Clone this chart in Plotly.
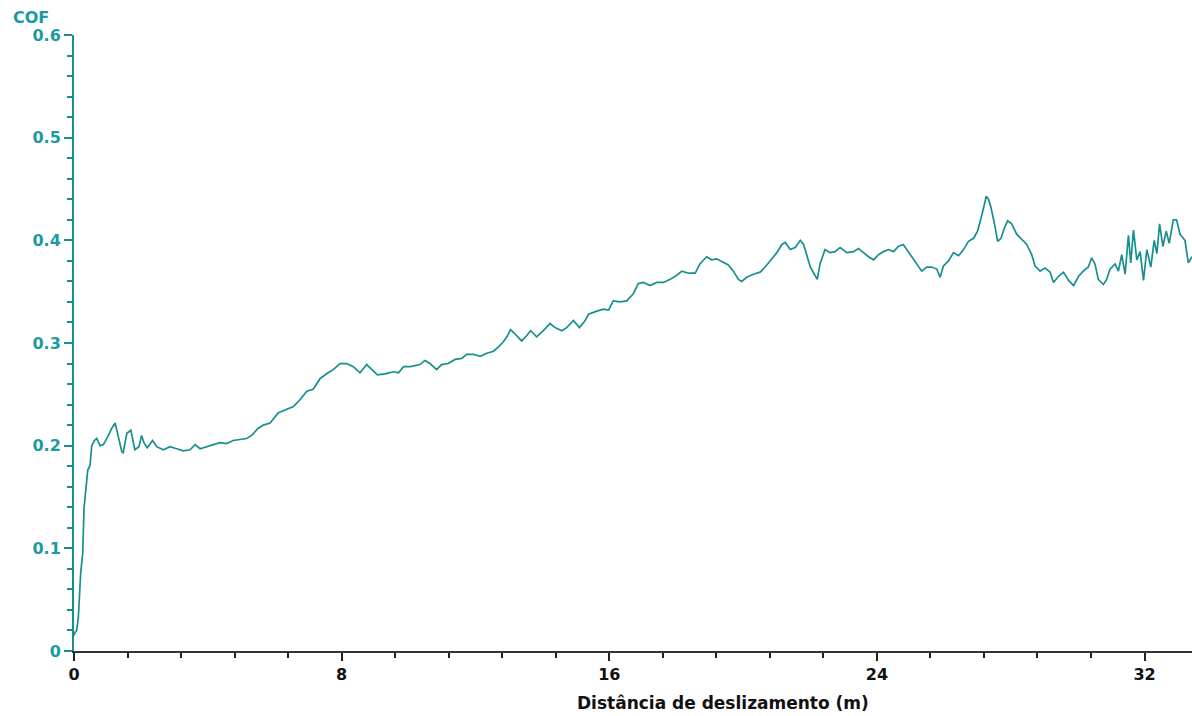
import plotly.graph_objects as go

# Sliding distance (m) and coefficient of friction
distance = [
    0.00, 0.03, 0.08, 0.13, 0.20, 0.26, 0.30, 0.36, 0.41, 0.48, 0.53, 0.61, 0.68, 0.78, 0.88,
    1.03, 1.13, 1.23, 1.33, 1.43, 1.47, 1.58, 1.70, 1.82, 1.94, 2.02, 2.09, 2.19, 2.35, 2.47,
    2.67, 2.87, 3.07, 3.27, 3.47, 3.62, 3.77, 3.97, 4.16, 4.36, 4.56, 4.76, 4.96, 5.16, 5.31,
    5.51, 5.66, 5.86, 6.11, 6.36, 6.56, 6.76, 6.96, 7.15, 7.35, 7.55, 7.75, 7.95, 8.15, 8.35,
    8.55, 8.75, 8.90, 9.07, 9.30, 9.55, 9.70, 9.85, 10.05, 10.34, 10.49, 10.64, 10.84, 10.99,
    11.19, 11.39, 11.59, 11.74, 11.94, 12.14, 12.34, 12.54, 12.68, 12.83, 12.94, 13.05, 13.18,
    13.38, 13.53, 13.65, 13.83, 14.03, 14.23, 14.38, 14.58, 14.73, 14.93, 15.11, 15.28, 15.38,
    15.63, 15.83, 15.98, 16.12, 16.32, 16.52, 16.72, 16.87, 17.02, 17.22, 17.42, 17.62, 17.82,
    18.02, 18.17, 18.37, 18.57, 18.71, 18.91, 19.06, 19.21, 19.41, 19.56, 19.71, 19.86, 19.96,
    20.11, 20.31, 20.51, 20.66, 20.86, 21.01, 21.16, 21.26, 21.41, 21.56, 21.71, 21.81, 21.91,
    22.01, 22.13, 22.22, 22.30, 22.45, 22.60, 22.75, 22.90, 23.10, 23.30, 23.45, 23.60, 23.75,
    23.90, 24.05, 24.20, 24.35, 24.50, 24.64, 24.79, 24.94, 25.09, 25.24, 25.34, 25.49, 25.64,
    25.79, 25.89, 25.99, 26.14, 26.29, 26.44, 26.59, 26.74, 26.89, 27.01, 27.14, 27.27, 27.34,
    27.41, 27.51, 27.61, 27.71, 27.81, 27.91, 28.03, 28.18, 28.33, 28.48, 28.63, 28.73, 28.88,
    29.03, 29.18, 29.28, 29.43, 29.58, 29.73, 29.88, 30.03, 30.17, 30.32, 30.42, 30.52, 30.62,
    30.77, 30.87, 30.97, 31.12, 31.22, 31.32, 31.42, 31.52, 31.59, 31.67, 31.77, 31.87, 31.97,
    32.07, 32.19, 32.29, 32.37, 32.45, 32.55, 32.65, 32.74, 32.86, 32.96, 33.06, 33.21, 33.31,
    33.42,
]
cof = [
    0.015, 0.018, 0.020, 0.033, 0.076, 0.095, 0.139, 0.157, 0.176, 0.181, 0.200, 0.205, 0.207,
    0.200, 0.201, 0.210, 0.217, 0.222, 0.209, 0.194, 0.193, 0.212, 0.215, 0.196, 0.199, 0.210,
    0.203, 0.198, 0.205, 0.199, 0.196, 0.199, 0.197, 0.195, 0.196, 0.201, 0.197, 0.199, 0.201,
    0.203, 0.202, 0.205, 0.206, 0.207, 0.210, 0.217, 0.220, 0.222, 0.232, 0.235, 0.238, 0.245,
    0.253, 0.255, 0.265, 0.270, 0.274, 0.280, 0.280, 0.277, 0.271, 0.279, 0.274, 0.269, 0.270,
    0.272, 0.271, 0.277, 0.277, 0.279, 0.283, 0.280, 0.274, 0.279, 0.280, 0.284, 0.285, 0.289,
    0.289, 0.287, 0.290, 0.292, 0.296, 0.301, 0.306, 0.313, 0.309, 0.302, 0.307, 0.312, 0.306,
    0.312, 0.319, 0.315, 0.312, 0.315, 0.322, 0.315, 0.322, 0.328, 0.331, 0.333, 0.332, 0.341,
    0.340, 0.341, 0.348, 0.358, 0.359, 0.356, 0.359, 0.359, 0.362, 0.366, 0.370, 0.368, 0.368,
    0.377, 0.384, 0.381, 0.382, 0.379, 0.376, 0.370, 0.362, 0.360, 0.364, 0.367, 0.369, 0.374,
    0.382, 0.388, 0.396, 0.398, 0.391, 0.393, 0.400, 0.396, 0.385, 0.374, 0.367, 0.362, 0.377,
    0.391, 0.388, 0.389, 0.393, 0.388, 0.389, 0.392, 0.388, 0.384, 0.381, 0.386, 0.389, 0.391,
    0.389, 0.394, 0.396, 0.389, 0.381, 0.375, 0.370, 0.374, 0.374, 0.372, 0.364, 0.375, 0.380,
    0.388, 0.385, 0.391, 0.399, 0.402, 0.409, 0.425, 0.443, 0.440, 0.432, 0.417, 0.399, 0.402,
    0.412, 0.419, 0.416, 0.406, 0.401, 0.396, 0.386, 0.375, 0.370, 0.373, 0.369, 0.359, 0.365,
    0.369, 0.361, 0.356, 0.365, 0.370, 0.374, 0.383, 0.377, 0.362, 0.357, 0.362, 0.372, 0.377,
    0.370, 0.386, 0.367, 0.405, 0.378, 0.410, 0.381, 0.389, 0.361, 0.391, 0.374, 0.400, 0.387,
    0.416, 0.394, 0.409, 0.397, 0.420, 0.420, 0.406, 0.400, 0.378, 0.384,
]

x_ticks = [0, 8, 16, 24, 32]
y_ticks = [0, 0.1, 0.2, 0.3, 0.4, 0.5, 0.6]
y_tick_text = ["0", "0.1", "0.2", "0.3", "0.4", "0.5", "0.6"]

TEAL = "#178f8f"
TEAL_LBL = "#1b9aa0"
FONT = "DejaVu Sans"

fig = go.Figure()
fig.add_trace(go.Scatter(
    x=distance, y=cof, mode="lines",
    line=dict(color=TEAL, width=1.7),
    showlegend=False, hoverinfo="skip",
))

fig.update_layout(
    width=1192, height=716,
    margin=dict(l=74, r=0, t=35, b=65),
    paper_bgcolor="white", plot_bgcolor="white",
    xaxis=dict(
        range=[0, 33.42], tickvals=x_ticks, ticktext=[str(v) for v in x_ticks],
        showgrid=False, zeroline=False,
        showline=True, linecolor="#333333", linewidth=2,
        ticks="outside", ticklen=8, tickwidth=2, tickcolor="#222222",
        minor=dict(dtick=1.6, tick0=0, ticks="outside", ticklen=5, tickwidth=2, tickcolor="#222222"),
        tickfont=dict(family=FONT, size=16, color="#111111", weight="bold"),
    ),
    yaxis=dict(
        range=[0, 0.6], tickvals=y_ticks, ticktext=y_tick_text,
        showgrid=False, zeroline=False,
        showline=True, linecolor=TEAL, linewidth=2,
        ticks="outside", ticklen=8, tickwidth=2, tickcolor=TEAL,
        minor=dict(dtick=0.02, tick0=0, ticks="outside", ticklen=5, tickwidth=2, tickcolor=TEAL),
        tickfont=dict(family=FONT, size=16, color=TEAL_LBL, weight="bold"),
    ),
    annotations=[
        dict(text="Distância de deslizamento (m)", xref="paper", yref="paper",
             x=(723 - 74) / 1118, y=-52 / 616, xanchor="center", yanchor="middle",
             showarrow=False,
             font=dict(family=FONT, size=17, color="#111111", weight="bold")),
        dict(text="COF", xref="paper", yref="paper",
             x=-63 / 1118, y=1 + 17 / 616, xanchor="left", yanchor="middle",
             showarrow=False,
             font=dict(family=FONT, size=16, color=TEAL_LBL, weight="bold")),
    ],
)

fig.write_html("out.html")
